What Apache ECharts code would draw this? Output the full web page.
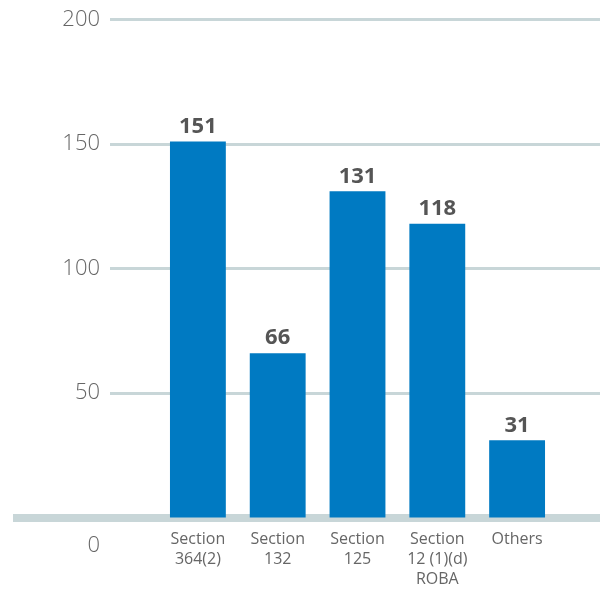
<!DOCTYPE html>
<html lang="en" style="height: 100%">

<head>
  <meta charset="utf-8">
</head>

<body style="height: 100%; margin: 0">
  <div id="container" style="width: 600px; height: 592px"></div>

  <script type="text/javascript" src="https://cdn.jsdelivr.net/npm/echarts@6/dist/echarts.min.js"></script>
  <script type="text/javascript">
    var categories = ['Section\n364(2)', 'Section\n132', 'Section\n125', 'Section\n12 (1)(d)\nROBA', 'Others'];
    var values = [151, 66, 131, 118, 31];
    var yMin = 0, yMax = 200, yStep = 50;

    var font = "'Open Sans', 'Noto Sans', sans-serif";
    var gridColor = '#c8d6d8';
    var textColor = '#666666';
    var gridTop = 19.5, gridBottom = 74.5;

    var myChart = echarts.init(document.getElementById('container'));
    myChart.setOption({
      animation: false,
      textStyle: { fontFamily: font },
      grid: [
        // grid lines + y labels
        { left: 110, right: 0, top: gridTop, bottom: gridBottom },
        // bars
        { left: 158, right: 43, top: gridTop, bottom: gridBottom },
        // thick base line
        { left: 13, right: 0, top: gridTop, bottom: gridBottom }
      ],
      xAxis: [
        { gridIndex: 0, type: 'value', show: false },
        {
          gridIndex: 1, type: 'category', data: categories,
          axisLine: { show: false }, axisTick: { show: false },
          axisLabel: { color: textColor, fontSize: 16, lineHeight: 20, margin: 12, fontFamily: font }
        },
        {
          gridIndex: 2, type: 'value', show: true,
          axisLine: { show: true, lineStyle: { color: gridColor, width: 8, cap: 'butt' } },
          axisTick: { show: false }, axisLabel: { show: false }, splitLine: { show: false }
        }
      ],
      yAxis: [
        {
          gridIndex: 0, type: 'value', min: yMin, max: yMax, interval: yStep,
          axisLine: { show: false }, axisTick: { show: false },
          splitLine: { lineStyle: { color: gridColor, width: 3, cap: 'butt' } },
          axisLabel: {
            color: textColor, fontSize: 22, margin: 10, fontFamily: font, fontWeight: 300,
            formatter: function (v) { return v === 0 ? '{z|0}' : String(v); },
            rich: { z: { color: textColor, fontSize: 22, fontWeight: 300, fontFamily: font, padding: [57, 0, 0, 0] } }
          }
        },
        { gridIndex: 1, type: 'value', min: yMin, max: yMax, show: false },
        { gridIndex: 2, type: 'value', min: yMin, max: yMax, show: false }
      ],
      series: [
        {
          type: 'bar',
          xAxisIndex: 1,
          yAxisIndex: 1,
          data: values,
          barWidth: '70%',
          itemStyle: { color: '#007ac2' },
          label: {
            show: true, position: 'top', distance: 4,
            color: '#555555', fontSize: 22, fontWeight: 'bold', fontFamily: font
          }
        }
      ]
    });
  </script>
</body>

</html>
